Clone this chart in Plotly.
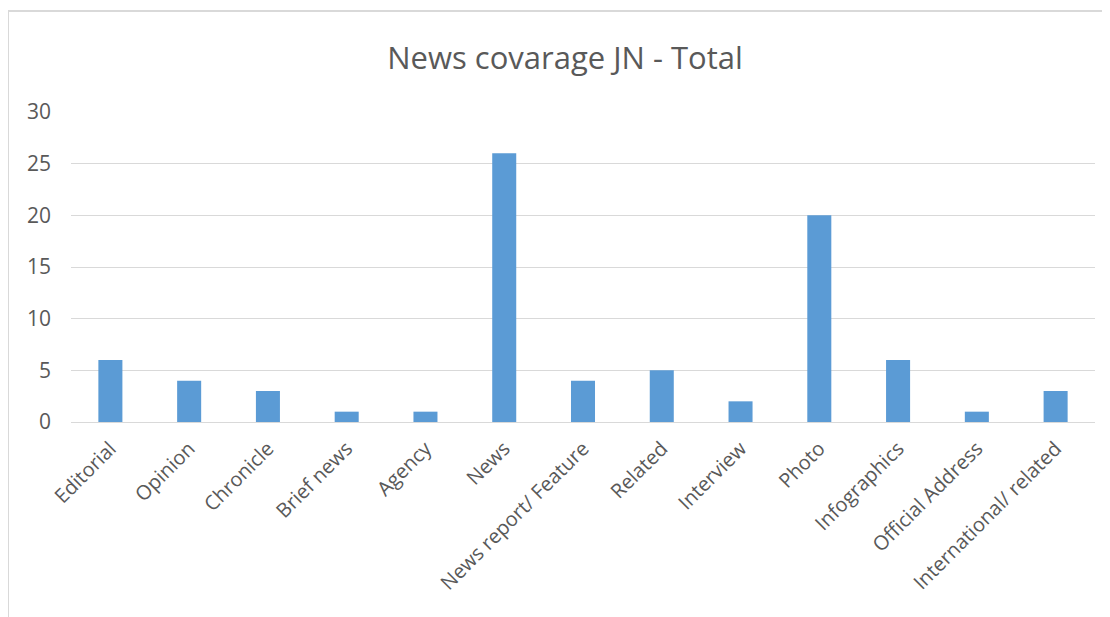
import plotly.graph_objects as go

categories = ["Editorial", "Opinion", "Chronicle", "Brief news", "Agency", "News",
              "News report/ Feature", "Related", "Interview", "Photo", "Infographics",
              "Official Address", "International/ related"]
values = [6, 4, 3, 1, 1, 26, 4, 5, 2, 20, 6, 1, 3]
y_ticks = [0, 5, 10, 15, 20, 25, 30]

# page body has an 8px margin, so the figure starts at (8, 8) on screen
OFF = 8
W, H = 1110 - 2 * OFF, 617 - OFF
L, T = 71 - OFF, 112 - OFF
R = W - (1095 - OFF)
B = H - (422 - OFF)
pw, ph = W - L - R, H - T - B

fig = go.Figure(go.Bar(x=categories, y=values, marker_color="#5b9bd5",
                       marker_line_width=0, width=0.305))

font = "'Open Sans', sans-serif"
fig.update_layout(
    width=W, height=H,
    margin=dict(l=L, r=R, t=T, b=B),
    paper_bgcolor="white", plot_bgcolor="white",
    title=dict(text="News covarage JN - Total", x=(565 - OFF) / W, xanchor="center",
               y=1 - (58 - OFF) / H, yanchor="middle",
               font=dict(family=font, size=31, color="#595959")),
    font=dict(family=font, color="#595959"),
    showlegend=False,
    xaxis=dict(tickangle=-45, tickfont=dict(size=20, color="#595959"),
               showgrid=False, showline=False, ticks="", ticklabelstandoff=10),
    yaxis=dict(range=[0, 30], tickvals=y_ticks, tickfont=dict(size=21, color="#595959"),
               showgrid=True, gridcolor="#d9d9d9", gridwidth=1,
               zeroline=True, zerolinecolor="#d9d9d9", zerolinewidth=1,
               ticks="", ticklen=0, showline=False, ticklabelstandoff=19),
    shapes=[
        dict(type="line", xref="paper", yref="paper",
             x0=(8 - 71) / pw, x1=(1120 - 71) / pw, y0=1 + (112 - 11) / ph, y1=1 + (112 - 11) / ph,
             line=dict(color="#d9d9d9", width=2)),
        dict(type="line", xref="paper", yref="paper",
             x0=(8 - 71) / pw, x1=(8 - 71) / pw, y0=1 + (112 - 11) / ph, y1=-B / ph,
             line=dict(color="#d9d9d9", width=2)),
    ],
)

fig.write_html("out.html")
